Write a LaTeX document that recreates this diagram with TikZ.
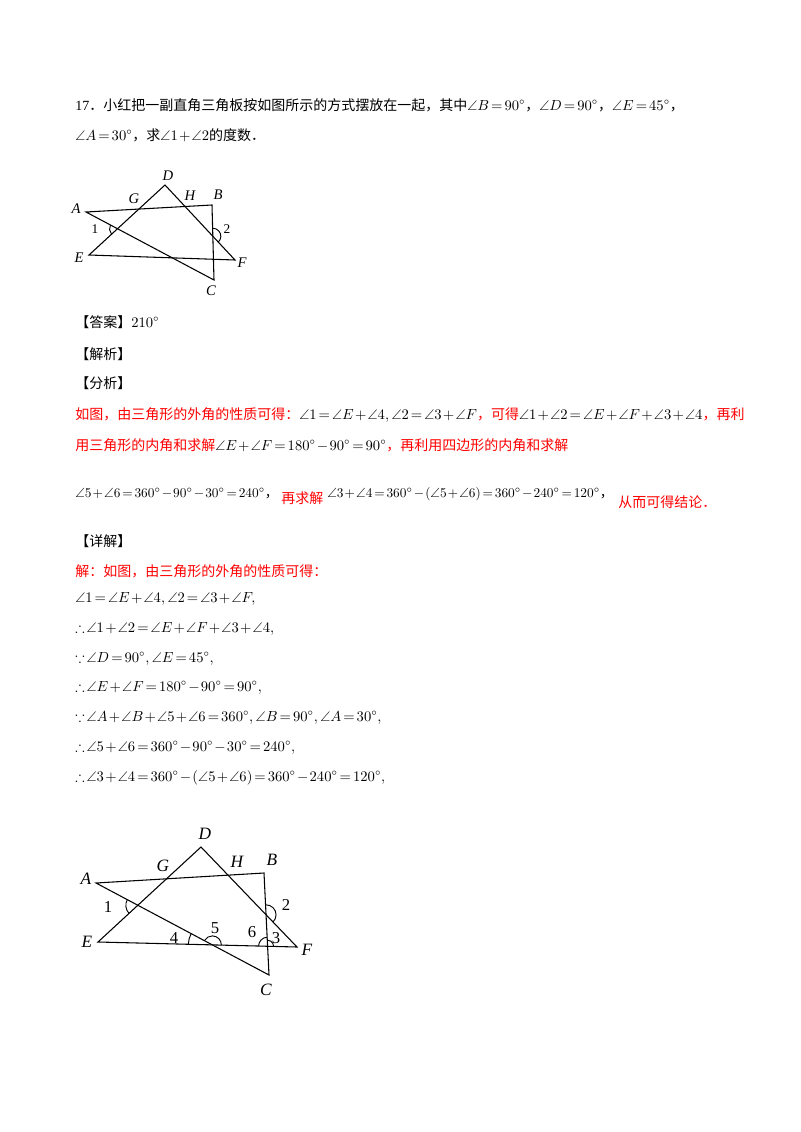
\documentclass[tikz,border=0pt]{standalone}
\usepackage{amssymb}
\usepackage{fontspec}
\setmainfont{Liberation Serif}
\newfontfamily\cjk{Noto Sans CJK SC}
\usetikzlibrary{calc}
\newcommand\zh[1]{{\cjk #1}}
\newcommand\rz[1]{\textcolor{red}{\cjk #1}}
\thickmuskip=2.5mu
\medmuskip=1.5mu
\begin{document}
\begin{tikzpicture}[x=0.75pt,y=0.75pt,
  txt/.style={anchor=base west,inner sep=0pt,font=\fontsize{10.5pt}{12pt}\selectfont},
  txts/.style={anchor=base west,inner sep=0pt,font=\fontsize{10pt}{12pt}\selectfont},
  lbl/.style={inner sep=0pt,font=\fontsize{11pt}{12pt}\selectfont\itshape},
  lbl2/.style={inner sep=0pt,font=\fontsize{13pt}{14pt}\selectfont\itshape},
  num/.style={inner sep=0pt,font=\fontsize{10pt}{12pt}\selectfont},
  num2/.style={inner sep=0pt,font=\fontsize{12.5pt}{14pt}\selectfont},
  edge/.style={line width=0.8pt},
  arcs/.style={line width=0.7pt}]
\useasboundingbox (0,0) rectangle (800,-1132);
\fill[white] (0,0) rectangle (800,-1132);
% text
\node[txt] (t1) at (75,-110) {17\zh{．小红把一副直角三角板按如图所示的方式摆放在一起，其中}$\angle B=90^\circ$\zh{，}$\angle D=90^\circ$\zh{，}$\angle E=45^\circ$\zh{，}};
\node[txt] (t2) at (75,-140) {$\angle A=30^\circ$\zh{，求}$\angle 1+\angle 2$\zh{的度数．}};
\node[txt] (ans) at (75,-327) {\zh{【答案】}$210^\circ$};
\node[txt] (jx) at (75,-359) {\zh{【解析】}};
\node[txt] (fx) at (75,-388) {\zh{【分析】}};
\node[txt] (r1) at (75,-419) {\rz{如图，由三角形的外角的性质可得：}$\angle1=\angle E+\angle4,\angle2=\angle3+\angle F$\rz{，可得}$\angle1+\angle2=\angle E+\angle F+\angle3+\angle4$\rz{，再利}};
\node[txt] (r2) at (75,-450) {\rz{用三角形的内角和求解}$\angle E+\angle F=180^\circ-90^\circ=90^\circ$\rz{，再利用四边形的内角和求解}};
\node[txts] (r3a) at (75,-497) {$\angle5+\angle6=360^\circ-90^\circ-30^\circ=240^\circ$\zh{，}};
\node[txt] (r3b) at (281,-503) {\rz{再求解}};
\node[txts] (r3c) at (327,-497) {$\angle3+\angle4=360^\circ-\left(\angle5+\angle6\right)=360^\circ-240^\circ=120^\circ$\zh{，}};
\node[txt] (r3d) at (618,-507) {\rz{从而可得结论．}};
\node[txt] (xj) at (75,-546) {\zh{【详解】}};
\node[txt] (s0) at (75,-576) {\rz{解：如图，由三角形的外角的性质可得：}};
\node[txt] (s1) at (75,-602) {$\angle1=\angle E+\angle4,\angle2=\angle3+\angle F,$};
\node[txt] (s2) at (75,-632) {$\therefore\angle1+\angle2=\angle E+\angle F+\angle3+\angle4,$};
\node[txt] (s3) at (75,-662) {$\because\angle D=90^\circ,\angle E=45^\circ,$};
\node[txt] (s4) at (75,-691) {$\therefore\angle E+\angle F=180^\circ-90^\circ=90^\circ,$};
\node[txt] (s5) at (75,-721) {$\because\angle A+\angle B+\angle5+\angle6=360^\circ,\angle B=90^\circ,\angle A=30^\circ,$};
\node[txt] (s6) at (75,-751) {$\therefore\angle5+\angle6=360^\circ-90^\circ-30^\circ=240^\circ,$};
\node[txt] (s7) at (75,-781) {$\therefore\angle3+\angle4=360^\circ-\left(\angle5+\angle6\right)=360^\circ-240^\circ=120^\circ,$};
% figure 1
\coordinate (A) at (86,-212); \coordinate (B) at (212,-205);
\coordinate (D) at (165,-185); \coordinate (E) at (89,-255);
\coordinate (F) at (235,-260); \coordinate (C) at (214,-280);
\draw[edge] (A) -- (B) -- (C) -- cycle;
\draw[edge] (E) -- (D) -- (F) -- cycle;
\coordinate (P1) at (intersection of A--C and E--D);
\coordinate (P2) at (intersection of B--C and D--F);
\draw[arcs] ($(P1)+(152:8)$) arc[start angle=152,end angle=222,radius=8];
\draw[arcs] ($(P2)+(-47:8)$) arc[start angle=-47,end angle=91.5,radius=8];
\node[lbl] (lA) at (76,-209) {A};
\node[lbl] (lD) at (168,-176) {D};
\node[lbl] (lG) at (134,-199) {G};
\node[lbl] (lH) at (190,-196) {H};
\node[lbl] (lB) at (218,-195) {B};
\node[lbl] (lE) at (79,-258) {E};
\node[lbl] (lF) at (242,-263) {F};
\node[lbl] (lC) at (211,-291) {C};
\node[num] (l1) at (95,-229) {1};
\node[num] (l2) at (227,-229) {2};
% figure 2
\coordinate (A2) at (96,-883); \coordinate (B2) at (264,-873);
\coordinate (D2) at (201,-847); \coordinate (E2) at (98,-942);
\coordinate (F2) at (297,-947); \coordinate (C2) at (269,-975);
\draw[edge] (A2) -- (B2) -- (C2) -- cycle;
\draw[edge] (E2) -- (D2) -- (F2) -- cycle;
\coordinate (Q1) at (intersection of A2--C2 and E2--D2);
\coordinate (Q2) at (intersection of A2--C2 and E2--F2);
\coordinate (Q3) at (intersection of B2--C2 and E2--F2);
\coordinate (Q4) at (intersection of B2--C2 and D2--F2);
\draw[arcs] ($(Q1)+(152:12)$) arc[start angle=152,end angle=223,radius=12];
\draw[arcs] ($(Q2)+(152:24)$) arc[start angle=152,end angle=178.6,radius=24];
\draw[arcs] ($(Q2)+(-1.4:9)$) arc[start angle=-1.4,end angle=152,radius=9];
\draw[arcs] ($(Q3)+(92.8:9)$) arc[start angle=92.8,end angle=178.6,radius=9];
\draw[arcs] ($(Q3)+(-1.4:6)$) arc[start angle=-1.4,end angle=92.8,radius=6];
\draw[arcs] ($(Q4)+(-46:10)$) arc[start angle=-46,end angle=92.8,radius=10];
\node[lbl2] (mD) at (205,-834) {D};
\node[lbl2] (mG) at (163,-866) {G};
\node[lbl2] (mH) at (237,-862) {H};
\node[lbl2] (mB) at (272,-860) {B};
\node[lbl2] (mA) at (86,-879) {A};
\node[lbl2] (mE) at (87,-942) {E};
\node[lbl2] (mF) at (307,-950) {F};
\node[lbl2] (mC) at (266,-990) {C};
\node[num2] (m1) at (108,-907) {1};
\node[num2] (m2) at (286,-905) {2};
\node[num2] (m4) at (174,-938) {4};
\node[num2] (m5) at (215,-928) {5};
\node[num2] (m6) at (252,-932) {6};
\node[num2] (m3) at (276,-938) {3};
\end{tikzpicture}
\end{document}
